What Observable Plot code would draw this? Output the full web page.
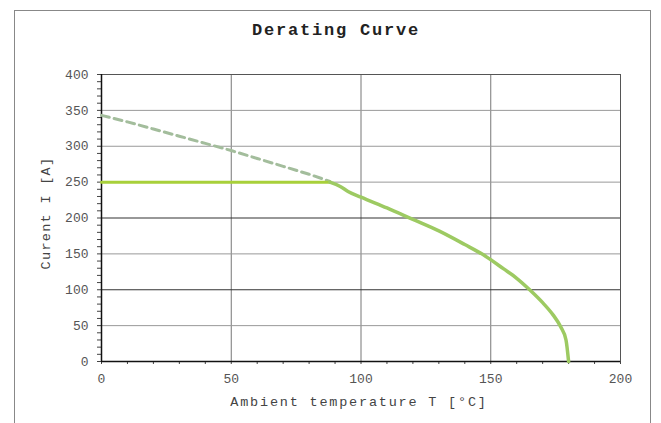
<!DOCTYPE html>
<html>
<head>
<meta charset="utf-8">
<script src="https://cdn.jsdelivr.net/npm/d3@7"></script>
<script src="https://cdn.jsdelivr.net/npm/@observablehq/plot@0.6"></script>
<style>
  html, body { margin: 0; padding: 0; background: #fff; }
  #chart svg { display: block; }
</style>
</head>
<body>
<div id="chart"></div>
<script>
// Data
const title = "Derating Curve";
const xLabel = "Ambient temperature T [°C]";
const yLabel = "Curent I [A]";

// Theoretical (dashed) part of the derating curve
const dashedT = [0, 10, 20, 30, 40, 50, 60, 70, 80, 88];
const dashedI = [343, 334, 324, 314, 304, 294, 283, 272, 261, 251];

// Current limit (flat solid line)
const limitT = [0, 88];
const limitI = [250, 250];

// Derated part (solid curve)
const curveT = [88, 92, 95, 100, 110, 120, 130, 140, 147, 155, 160, 165, 170, 174, 177, 179, 180];
const curveI = [250, 244, 237, 229, 214, 198, 182, 163, 149, 129, 116, 100, 82, 65, 48, 30, 0];

const xMajor = [0, 50, 100, 150, 200];
const yMajor = [0, 50, 100, 150, 200, 250, 300, 350, 400];
const xMinor = [0,10,20,30,40,50,60,70,80,90,100,110,120,130,140,150,160,170,180,190,200];
const yMinor = [0,10,20,30,40,50,60,70,80,90,100,110,120,130,140,150,160,170,180,190,200,210,220,230,240,250,260,270,280,290,300,310,320,330,340,350,360,370,380,390,400];
const yDark = [100, 200];

const dashed = dashedT.map((t, i) => ({t, v: dashedI[i]}));
const limit = limitT.map((t, i) => ({t, v: limitI[i]}));
const curve = curveT.map((t, i) => ({t, v: curveI[i]}));

const font = "'Liberation Mono', 'DejaVu Sans Mono', monospace";

const chart = Plot.plot({
  width: 661,
  height: 423,
  marginLeft: 101,
  marginRight: 41,
  marginTop: 74,
  marginBottom: 62,
  style: {fontFamily: font, background: "#fff"},
  x: {domain: [0, 200]},
  y: {domain: [0, 400]},
  marks: [
    Plot.ruleX(xMajor.filter(d => d > 0 && d < 200), {stroke: "#777", strokeWidth: 1}),
    Plot.ruleY(yMajor.filter(d => d > 0 && d < 400 && !yDark.includes(d)), {stroke: "#999", strokeWidth: 1}),
    Plot.ruleY(yDark, {stroke: "#333", strokeWidth: 1.2}),
    Plot.frame({stroke: "#555", strokeWidth: 1}),
    Plot.axisX(xMinor, {tickSize: 3, text: null, label: null, stroke: "#444"}),
    Plot.axisY(yMinor, {tickSize: 4, text: null, label: null, stroke: "#444"}),
    Plot.axisX(xMajor, {tickSize: 0, tickPadding: 12, fontSize: 13, fill: "#555", label: null}),
    Plot.axisY(yMajor, {tickSize: 0, tickPadding: 13, fontSize: 13, fill: "#555", label: null}),
    Plot.ruleY([0], {stroke: "#111", strokeWidth: 1.5}),
    Plot.ruleX([0], {stroke: "#111", strokeWidth: 1.5}),
    Plot.line(dashed, {x: "t", y: "v", stroke: "#a3bd9c", strokeWidth: 3, strokeDasharray: "8,5"}),
    Plot.line(limit, {x: "t", y: "v", stroke: "#a8d03a", strokeWidth: 3}),
    Plot.line(curve, {x: "t", y: "v", stroke: "#9dca62", strokeWidth: 3.5, curve: "monotone-x"}),
    Plot.text([title], {frameAnchor: "top", dx: -25, dy: -52, fontSize: 17, fontWeight: "bold", fill: "#222"}),
    Plot.text([xLabel], {frameAnchor: "bottom", dx: -2, dy: 44, fontSize: 13.5, fill: "#444"}),
    Plot.text([yLabel], {frameAnchor: "left", textAnchor: "middle", dx: -56, dy: -5, rotate: -90, fontSize: 13.5, fill: "#444"})
  ]
});

const svg = d3.select(chart);
const spacing = new Map([[title, "1.8px"], [xLabel, "1.8px"], [yLabel, "1.3px"]]);
svg.selectAll("text").each(function() {
  const s = spacing.get(this.textContent);
  if (s) this.style.letterSpacing = s;
});

svg.insert("rect", ":first-child")
  .attr("x", 14.5).attr("y", 10.5).attr("width", 636).attr("height", 420)
  .attr("fill", "none").attr("stroke", "#888").attr("stroke-width", 1);

document.getElementById("chart").appendChild(chart);
</script>
</body>
</html>
